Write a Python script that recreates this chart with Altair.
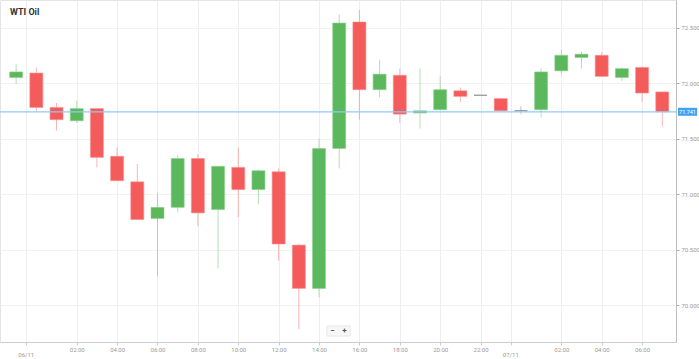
import altair as alt
import pandas as pd

# hours since 00:00 on 06/11 (one candle per hour)
hours = [-1, 0, 1, 2, 3, 4, 5, 6, 7, 8, 9, 10, 11, 12, 13, 14, 15, 16, 17, 18, 19, 20,
         21, 22, 23, 24, 25, 26, 27, 28, 29, 30, 31]
opens = [72.05, 72.09, 71.78, 71.66, 71.77, 71.34, 71.11, 70.78, 70.88, 71.32, 70.86,
         71.24, 71.04, 71.20, 70.54, 70.15, 71.41, 72.55, 71.94, 72.07, 71.73, 71.76,
         71.93, 71.89, 71.86, 71.75, 71.76, 72.11, 72.23, 72.25, 72.05, 72.14, 71.92]
closes = [72.10, 71.78, 71.67, 71.77, 71.33, 71.12, 70.77, 70.88, 71.32, 70.83, 71.25,
          71.04, 71.21, 70.55, 70.15, 71.41, 72.54, 71.94, 72.08, 71.72, 71.75, 71.94,
          71.88, 71.89, 71.75, 71.75, 72.10, 72.25, 72.26, 72.06, 72.13, 71.91, 71.741]
highs = [72.17, 72.14, 71.82, 71.84, 71.77, 71.42, 71.27, 71.01, 71.35, 71.36, 71.25,
         71.42, 71.22, 71.23, 70.55, 71.50, 72.62, 72.66, 72.21, 72.13, 72.13, 72.06,
         71.96, 71.89, 71.86, 71.79, 72.13, 72.30, 72.28, 72.28, 72.14, 72.15, 71.92]
lows = [71.99, 71.74, 71.57, 71.64, 71.24, 71.12, 70.77, 70.26, 70.84, 70.71, 70.33,
        70.79, 70.91, 70.40, 69.78, 70.07, 71.23, 71.67, 71.87, 71.64, 71.59, 71.76,
        71.83, 71.89, 71.75, 71.72, 71.69, 72.08, 72.13, 72.06, 72.02, 71.83, 71.61]

y_ticks = [70.0, 70.5, 71.0, 71.5, 72.0, 72.5]
x_ticks = [-0.5, 2, 4, 6, 8, 10, 12, 14, 16, 18, 20, 22, 23.5, 26, 28, 30]
date_pos = [-0.5, 23.5]
date_labels = ["06/11", "07/11"]
last_price = 71.741
title_text = "WTI Oil"

dirs = []
for o, c in zip(opens, closes):
    dirs.append("up" if c > o else ("down" if c < o else "flat"))

df = pd.DataFrame({"h": hours, "open": opens, "close": closes, "high": highs,
                   "low": lows, "dir": dirs})
dates_df = pd.DataFrame({"h": date_pos, "label": date_labels})

FONT = "Roboto"
xscale = alt.Scale(domain=[-1.8, 31.68], nice=False, zero=False, padding=0)
yscale = alt.Scale(domain=[69.667, 72.748], nice=False, zero=False, padding=0)
color = alt.Color("dir:N", scale=alt.Scale(domain=["up", "down", "flat"],
                                            range=["#5cb85c", "#f45b5b", "#777777"]),
                  legend=None)

label_expr = ("(datum.value == -0.5 || datum.value == 23.5) ? '' : "
              "((datum.value % 24 < 10 ? '0' : '') + (datum.value % 24) + ':00')")

x_enc = alt.X("h:Q", scale=xscale,
              axis=alt.Axis(values=x_ticks, labelExpr=label_expr, title=None,
                            grid=True, gridColor="#eeeeee", tickSize=3,
                            tickColor="#cccccc", domainColor="#cccccc",
                            labelFontSize=6, labelColor="#999999", labelPadding=1,
                            labelFont=FONT))

y_axis = alt.Axis(orient="right", values=y_ticks, format=".3f", title=None,
                  grid=True, gridColor="#f2f2f2", tickSize=3, tickColor="#aaaaaa",
                  domainColor="#bbbbbb", labelFontSize=6, labelColor="#999999",
                  labelPadding=2, labelFont=FONT)

base = alt.Chart(df)

wicks = base.mark_rule(strokeWidth=1, opacity=0.45).encode(
    x=x_enc,
    y=alt.Y("low:Q", scale=yscale, axis=y_axis),
    y2="high:Q",
    color=color,
)

bodies = base.mark_bar(size=13, strokeWidth=1, strokeOpacity=0.6).encode(
    x=alt.X("h:Q", scale=xscale),
    y=alt.Y("open:Q", scale=yscale),
    y2="close:Q",
    color=color,
    stroke=alt.Stroke("dir:N", scale=alt.Scale(domain=["up", "down", "flat"],
                                               range=["#8fd18f", "#f88f8f", "#777777"]),
                      legend=None),
)

price_line = alt.Chart(pd.DataFrame({"p": [last_price]})).mark_rule(
    color="#8ecbf5", strokeWidth=1.2).encode(
    y=alt.Y("p:Q", scale=yscale),
    x=alt.value(0), x2=alt.value(676))

badge = alt.Chart(pd.DataFrame({"p": [last_price]})).mark_rule(
    color="#3fa4f0", strokeWidth=8, strokeCap="butt").encode(
    y=alt.Y("p:Q", scale=yscale),
    x=alt.value(678), x2=alt.value(697))

badge_text = alt.Chart(pd.DataFrame({"p": [last_price], "t": [f"{last_price:.3f}"]})).mark_text(
    color="white", fontSize=5.5, font=FONT, align="center", baseline="middle").encode(
    y=alt.Y("p:Q", scale=yscale),
    x=alt.value(687.5),
    text="t:N")

date_text = alt.Chart(dates_df).mark_text(
    fontSize=6, color="#999999", font=FONT, align="center", baseline="middle").encode(
    x=alt.X("h:Q", scale=xscale),
    y=alt.value(355),
    text="label:N")

title = alt.Chart(pd.DataFrame({"t": [title_text]})).mark_text(
    fontSize=9, fontWeight="bold", color="#333333", font=FONT, align="left",
    baseline="middle").encode(x=alt.value(10), y=alt.value(12), text="t:N")

buttons = alt.Chart(pd.DataFrame({"b": ["-", "+"]})).mark_rect(
    fill="#f7f7f7", stroke="#dddddd", strokeWidth=0.5).encode(
    x=alt.value(327), x2=alt.value(350),
    y=alt.value(326), y2=alt.value(336))

button_text = alt.Chart(pd.DataFrame({"b": ["\u2212"]})).mark_text(
    fontSize=8, fontWeight="bold", color="#555555", font=FONT, align="center",
    baseline="middle").encode(x=alt.value(332.5), y=alt.value(331), text="b:N")

button_text2 = alt.Chart(pd.DataFrame({"b": ["+"]})).mark_text(
    fontSize=8, fontWeight="bold", color="#555555", font=FONT, align="center",
    baseline="middle").encode(x=alt.value(344.5), y=alt.value(331), text="b:N")

chart = alt.layer(
    wicks, bodies, price_line, badge, badge_text, date_text, title, buttons,
    button_text, button_text2
).properties(
    width=676, height=342,
    autosize=alt.AutoSizeParams(type="none"),
    padding={"left": 0, "right": 23, "top": 0, "bottom": 17},
    background="white",
).configure_view(stroke="#e4e4e4")

chart.save("out.html", embed_options={"renderer": "svg", "actions": False})
